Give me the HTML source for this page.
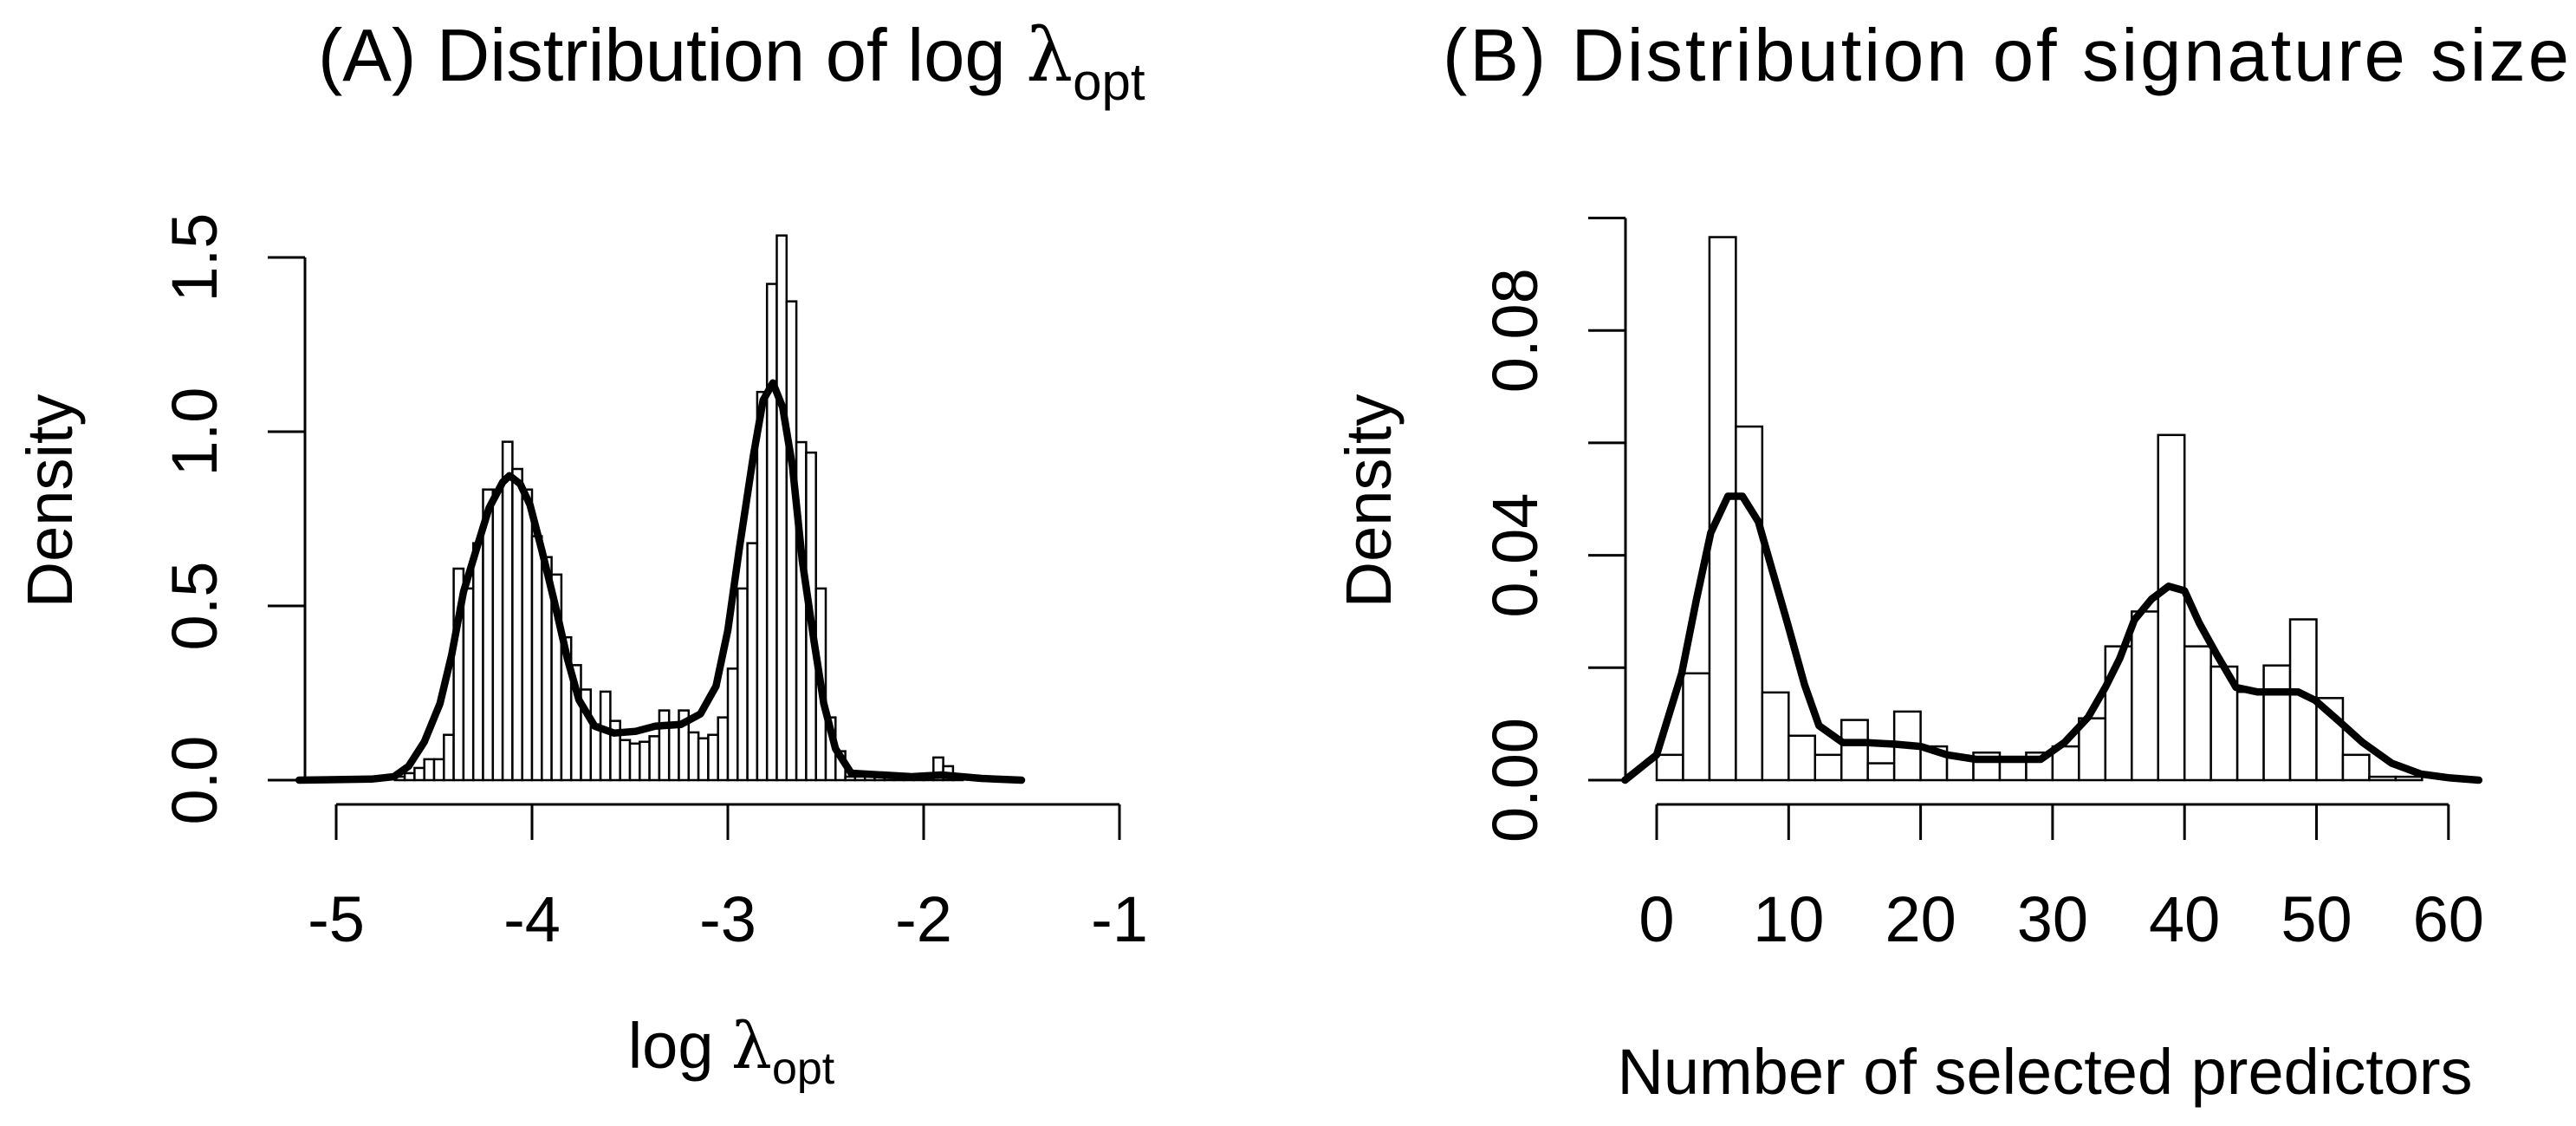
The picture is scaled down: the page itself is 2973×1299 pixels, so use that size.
<!DOCTYPE html>
<html><head><meta charset="utf-8"><style>
html,body{margin:0;padding:0;background:#fff;}
svg{display:block;font-family:"Liberation Sans",Arial,sans-serif;}
</style></head><body>
<svg id="fig" width="2973" height="1299" viewBox="0 0 2973 1299" xmlns="http://www.w3.org/2000/svg">
<text x="367" y="93" font-size="85">(A) Distribution of log <tspan font-family="'DejaVu Serif',serif">λ</tspan><tspan font-size="60" dy="22">opt</tspan></text>
<text x="1665" y="93" font-size="85" textLength="1300" lengthAdjust="spacing">(B) Distribution of signature size</text>
<text transform="translate(83,578) rotate(-90)" text-anchor="middle" font-size="74">Density</text>
<text transform="translate(1605,578) rotate(-90)" text-anchor="middle" font-size="74">Density</text>
<text x="844" y="1232" text-anchor="middle" font-size="74">log <tspan font-family="'DejaVu Serif',serif">λ</tspan><tspan font-size="52" dy="18">opt</tspan></text>
<text x="2360" y="1262" text-anchor="middle" font-size="74">Number of selected predictors</text>
<g id="ga"></g>
<g id="gb"></g>
</svg>
<script>
// Panel A data
const aBinStart = -4.70;
const aBinWidth = 0.05;
const aBins = [0.01,0.02,0.035,0.06,0.06,0.13,0.607,0.55,0.68,0.834,0.834,0.971,0.893,0.834,0.70,0.64,0.59,0.41,0.33,0.26,0.16,0.254,0.17,0.115,0.105,0.11,0.126,0.2,0.16,0.2,0.137,0.12,0.13,0.18,0.32,0.55,0.68,1.114,1.424,1.563,1.374,0.97,0.94,0.55,0.18,0.083,0.01,0.01,0.01,0.01,0.01,0.01,0.015,0.015,0.015,0.065,0.04,0.01];
const aDensX = [-5.19,-4.82,-4.705,-4.63,-4.55,-4.47,-4.41,-4.35,-4.28,-4.22,-4.15,-4.115,-4.06,-4.01,-3.95,-3.885,-3.82,-3.76,-3.68,-3.58,-3.47,-3.37,-3.24,-3.14,-3.06,-3.0,-2.94,-2.87,-2.82,-2.77,-2.72,-2.67,-2.62,-2.56,-2.51,-2.45,-2.37,-2.06,-1.91,-1.705,-1.5];
const aDensY = [0,0.003,0.01,0.04,0.11,0.22,0.36,0.54,0.67,0.78,0.855,0.874,0.85,0.79,0.66,0.51,0.35,0.23,0.155,0.135,0.14,0.155,0.16,0.19,0.27,0.43,0.67,0.93,1.09,1.14,1.07,0.90,0.63,0.40,0.22,0.09,0.02,0.01,0.015,0.005,0];
const aXTicks = [-5,-4,-3,-2,-1];
const aXTickLabels = ["-5","-4","-3","-2","-1"];
const aYTicks = [0,0.5,1.0,1.5];
const aYTickLabels = ["0.0","0.5","1.0","1.5"];
// Panel B data
const bBinStart = 0;
const bBinWidth = 2;
const bBins = [0.0045,0.019,0.0966,0.0629,0.0156,0.0079,0.0045,0.0107,0.003,0.0122,0.006,0.0041,0.0049,0.0039,0.0049,0.006,0.011,0.0238,0.030,0.0614,0.0238,0.0202,0.0157,0.0204,0.0286,0.0146,0.0045,0.0006,0.0006];
const bDensX = [-2.4,0,1.9,3,4.1,5.4,6.5,7.7,8.8,9.9,11.2,12.3,14.1,15.8,18.05,20,22,24.2,26.9,29.1,30.9,32.7,34,35.1,36.2,37.5,38.8,40,41.1,42.4,43.9,45.5,48.6,49.9,51.7,53.5,55.7,57.9,60.1,62.3];
const bDensY = [0,0.0045,0.019,0.032,0.044,0.0505,0.0505,0.046,0.037,0.028,0.017,0.0097,0.0067,0.0067,0.0064,0.006,0.0045,0.0037,0.0037,0.0037,0.0067,0.0112,0.0165,0.0217,0.0285,0.0322,0.0345,0.0337,0.028,0.0225,0.0165,0.0157,0.0157,0.0142,0.0105,0.0067,0.003,0.0011,0.0004,0];
const bXTicks = [0,10,20,30,40,50,60];
const bXTickLabels = ["0","10","20","30","40","50","60"];
const bYTicks = [0,0.02,0.04,0.06,0.08,0.10];
const bYTickLabels = ["0.00","","0.04","","0.08",""];

const NS="http://www.w3.org/2000/svg";
function mk(parent,tag,attrs){const e=document.createElementNS(NS,tag);for(const k in attrs)e.setAttribute(k,attrs[k]);parent.appendChild(e);return e;}

function panel(g,cfg){
  const xs=v=>cfg.x0+(v-cfg.xv0)*cfg.xk;
  const ys=v=>cfg.y0-v*cfg.yk;
  cfg.bins.forEach((v,i)=>{
    const l=cfg.binStart+i*cfg.binWidth;
    const r=mk(g,'rect',{x:xs(l),y:ys(v),width:xs(l+cfg.binWidth)-xs(l),height:cfg.y0-ys(v),fill:'#fff',stroke:'#000','stroke-width':2.5});
    
    
  });
  const pts=cfg.dx.map((x,i)=>xs(x).toFixed(1)+','+ys(cfg.dy[i]).toFixed(1)).join(' ');
  const pl=mk(g,'polyline',{points:pts,fill:'none',stroke:'#000','stroke-width':8.5,'stroke-linejoin':'round','stroke-linecap':'round'});
  
  
  const ya=mk(g,'line',{x1:cfg.ax,x2:cfg.ax,y1:ys(cfg.yt[0]),y2:ys(cfg.yt[cfg.yt.length-1]),stroke:'#000','stroke-width':3});
  
  
  cfg.yt.forEach((t,i)=>{
    const tk=mk(g,'line',{x1:cfg.ax-43,x2:cfg.ax,y1:ys(t),y2:ys(t),stroke:'#000','stroke-width':3});
    
    
    if(cfg.ytl[i]){
      const tx=mk(g,'text',{transform:`translate(${cfg.ax-102},${ys(t)}) rotate(-90)`,'text-anchor':'middle','font-size':74});
      tx.textContent=cfg.ytl[i];
      
      
    }
  });
  const xa=mk(g,'line',{x1:xs(cfg.xt[0]),x2:xs(cfg.xt[cfg.xt.length-1]),y1:928,y2:928,stroke:'#000','stroke-width':3});
  
  
  cfg.xt.forEach((t,i)=>{
    const tk=mk(g,'line',{x1:xs(t),x2:xs(t),y1:928,y2:969,stroke:'#000','stroke-width':3});
    
    
    const tx=mk(g,'text',{x:xs(t),y:1086,'text-anchor':'middle','font-size':74});
    tx.textContent=cfg.xtl[i];
    
    
  });
}
panel(document.getElementById('ga'),{x0:388,xv0:-5,xk:226,y0:900,yk:402,ax:352,bins:aBins,binStart:aBinStart,binWidth:aBinWidth,dx:aDensX,dy:aDensY,xt:aXTicks,xtl:aXTickLabels,yt:aYTicks,ytl:aYTickLabels});
panel(document.getElementById('gb'),{x0:1912,xv0:0,xk:15.23,y0:900,yk:6485,ax:1876,bins:bBins,binStart:bBinStart,binWidth:bBinWidth,dx:bDensX,dy:bDensY,xt:bXTicks,xtl:bXTickLabels,yt:bYTicks,ytl:bYTickLabels});
</script>
</body></html>
